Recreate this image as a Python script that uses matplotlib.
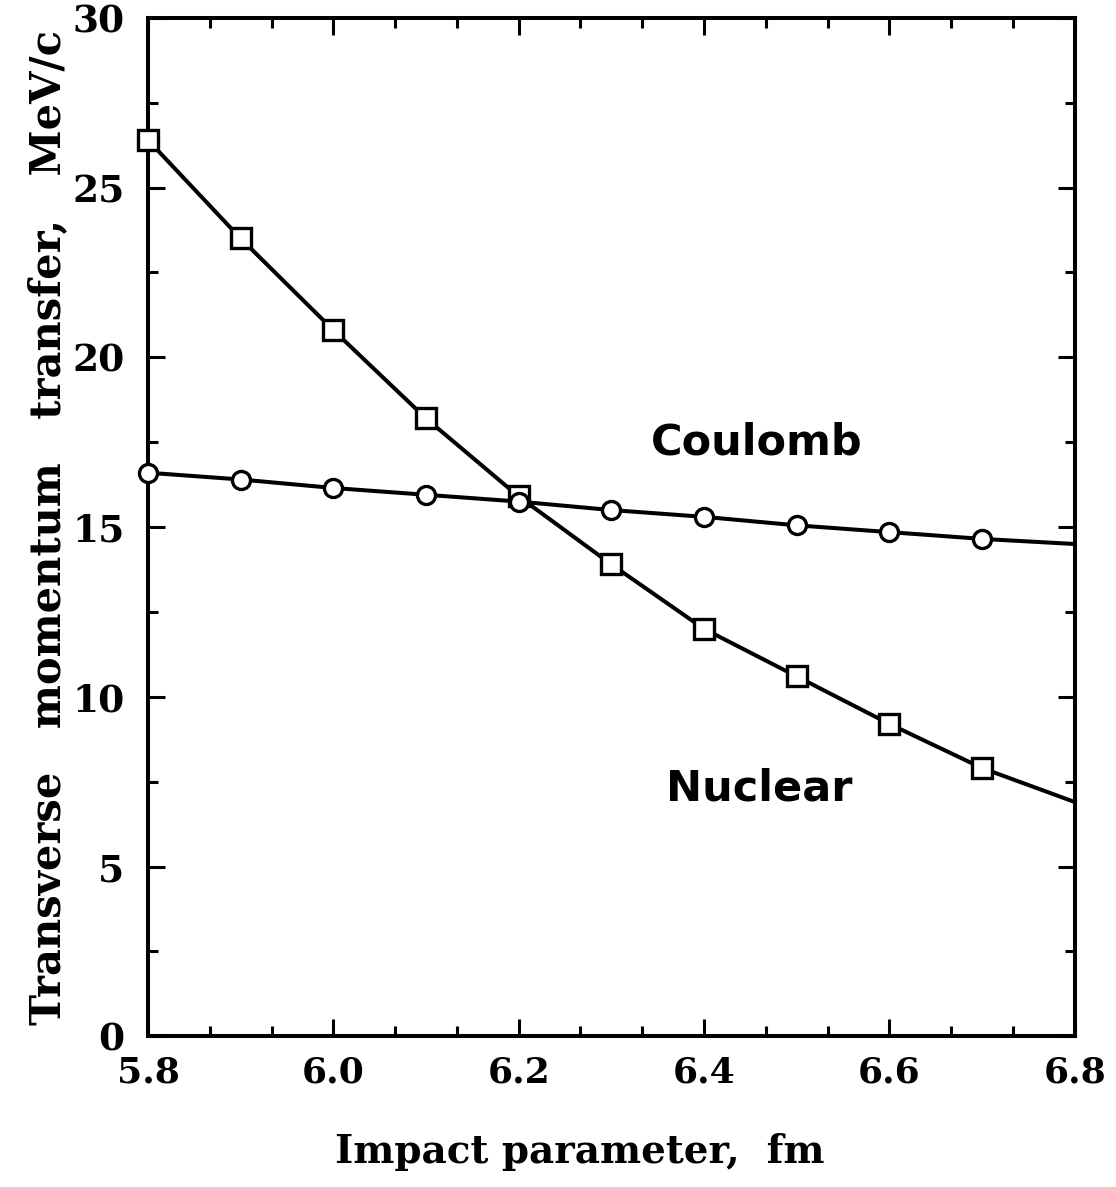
import numpy as np
import matplotlib.pyplot as plt
from matplotlib.ticker import MultipleLocator

# impact parameter, fm
b = [5.8, 5.9, 6.0, 6.1, 6.2, 6.3, 6.4, 6.5, 6.6, 6.7, 6.8]
nuclear = [26.4, 23.5, 20.8, 18.2, 15.9, 13.9, 12.0, 10.6, 9.2, 7.9, 6.9]
coulomb = [16.6, 16.4, 16.15, 15.95, 15.75, 15.5, 15.3, 15.05, 14.85, 14.65, 14.5]

serif = {'family': 'DejaVu Serif', 'weight': 'bold'}

fig = plt.figure(figsize=(11.16, 11.87), dpi=100)
ax = fig.add_axes([0.1326, 0.127, 0.8304, 0.858])

marks = list(range(len(b) - 1))
ax.plot(b, nuclear, color='k', lw=2.9, marker='s', ms=15, mfc='white',
        mec='k', mew=2.4, markevery=marks, clip_on=False, zorder=3)
ax.plot(b, coulomb, color='k', lw=2.9, marker='o', ms=13, mfc='white',
        mec='k', mew=2.4, markevery=marks, clip_on=False, zorder=3)

ax.text(6.457, 17.5, 'Coulomb', ha='center', va='center', fontsize=31,
        family='DejaVu Sans', weight='heavy')
ax.text(6.46, 7.3, 'Nuclear', ha='center', va='center', fontsize=31,
        family='DejaVu Sans', weight='heavy')

ax.set_xlim(5.8, 6.8)
ax.set_ylim(0, 30)
ax.xaxis.set_major_locator(MultipleLocator(0.2))
ax.xaxis.set_minor_locator(MultipleLocator(0.2 / 3))
ax.yaxis.set_major_locator(MultipleLocator(5))
ax.yaxis.set_minor_locator(MultipleLocator(2.5))
ax.tick_params(which='both', direction='in', top=True, right=True, width=2.2)
ax.tick_params(which='major', length=12)
ax.tick_params(which='minor', length=7)
ax.tick_params(axis='x', pad=14)
ax.tick_params(axis='y', pad=17)
for s in ax.spines.values():
    s.set_linewidth(2.9)

ax.set_xticklabels([f'{v:.1f}' for v in ax.get_xticks()], fontdict=serif,
                   fontsize=26)
ax.set_yticklabels([f'{v:.0f}' for v in ax.get_yticks()], fontdict=serif,
                   fontsize=27)

ax.set_xlabel('Impact parameter,  fm', fontdict=serif, fontsize=28, labelpad=32)
ax.xaxis.set_label_coords(0.466, -0.095)
ax.set_ylabel('Transverse   momentum   transfer,   MeV/c', fontdict=serif,
              fontsize=30, labelpad=2)

plt.savefig('out.png', dpi=100)
plt.close()
